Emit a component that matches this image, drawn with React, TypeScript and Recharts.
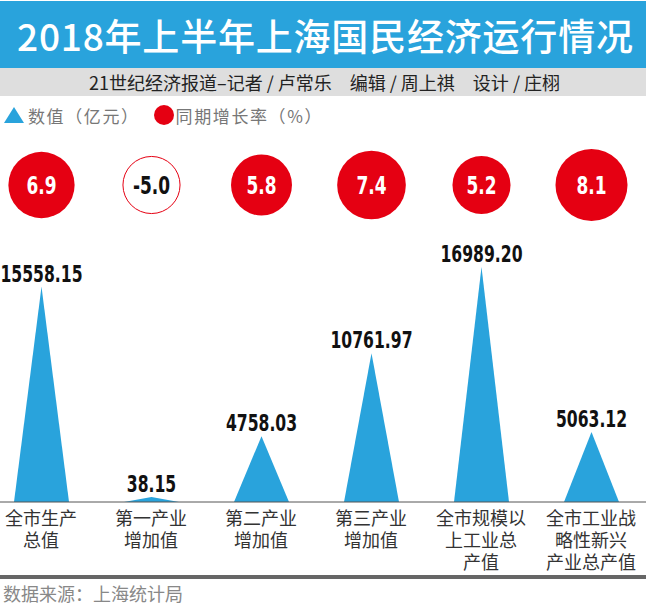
import { Bar, ComposedChart, LabelList, XAxis, YAxis } from "recharts";

const categories = [
  "全市生产\n总值",
  "第一产业\n增加值",
  "第二产业\n增加值",
  "第三产业\n增加值",
  "全市规模以\n上工业总\n产值",
  "全市工业战\n略性新兴\n产业总产值",
];
const values = [15558.15, 38.15, 4758.03, 10761.97, 16989.2, 5063.12];
const growth = [6.9, -5.0, 5.8, 7.4, 5.2, 8.1];

const BLUE = "#29a3dc";
const RED = "#e50012";
const CJK = '"Noto Sans CJK SC", "Noto Sans", sans-serif';
const NUM = '"DejaVu Sans", sans-serif';

const data = categories.map((name, i) => ({ name, value: values[i], growth: growth[i] }));

function Triangle(props: any) {
  const { x, y, width, height } = props;
  if (width == null || height == null) return null;
  const pts = `${x},${y + height} ${x + width / 2},${y} ${x + width},${y + height}`;
  return <polygon points={pts} fill={BLUE} />;
}

function CategoryTick({ x, y, payload }: any) {
  const lines = String(payload.value).split("\n");
  return (
    <text x={x} y={y} textAnchor="middle" fontSize={18} fill="#333" fontFamily={CJK}>
      {lines.map((l, i) => (
        <tspan key={i} x={x} dy={i === 0 ? 23 : 22}>
          {l}
        </tspan>
      ))}
    </text>
  );
}

// heavy numerals squeezed horizontally, close to the condensed face in the original
function NarrowText({ x, y, size, fill, children }: any) {
  return (
    <text
      transform={`translate(${x},${y}) scale(0.68,1)`}
      textAnchor="middle"
      fontSize={size}
      fontWeight="bold"
      fontFamily={NUM}
      fill={fill}
    >
      {children}
    </text>
  );
}

function ValueLabel(props: any) {
  const { x, y, width, value } = props;
  return (
    <NarrowText x={x + width / 2} y={y - 5} size={23} fill="#111">
      {Number(value).toFixed(2)}
    </NarrowText>
  );
}

function GrowthCircle(props: any) {
  const { x, width, value } = props;
  const cx = x + width / 2;
  const cy = 185;
  const r = 16.5 + 2.41 * Math.abs(value);
  const neg = value < 0;
  return (
    <g>
      <circle cx={cx} cy={cy} r={r} fill={neg ? "#fff" : RED} stroke={RED} strokeWidth={neg ? 1 : 0} />
      <NarrowText x={cx} y={cy + 9} size={25} fill={neg ? "#111" : "#fff"}>
        {value.toFixed(1)}
      </NarrowText>
    </g>
  );
}

export default function App() {
  return (
    <div
      style={{
        position: "absolute",
        left: 0,
        top: 0,
        width: 646,
        height: 608,
        overflow: "hidden",
        background: "#fff",
        fontFamily: CJK,
      }}
    >
      <div style={{ position: "absolute", left: -14, top: 0 }}>
        <ComposedChart width={660} height={608} data={data} margin={{ top: 253, right: 0, bottom: 0, left: 0 }}>
          <XAxis
            dataKey="name"
            height={106}
            axisLine={{ stroke: "#555", strokeWidth: 1 }}
            tickLine={false}
            tickSize={0}
            tickMargin={0}
            interval={0}
            tick={<CategoryTick />}
          />
          <YAxis hide domain={[0, 18000]} />
          <Bar dataKey="value" barSize={55} minPointSize={5} shape={<Triangle />} isAnimationActive={false}>
            <LabelList dataKey="value" content={<ValueLabel />} />
            <LabelList dataKey="growth" content={<GrowthCircle />} />
          </Bar>
        </ComposedChart>
      </div>

      <div
        style={{
          position: "absolute",
          left: 0,
          top: 1,
          width: 646,
          height: 67,
          background: BLUE,
          color: "#fff",
          fontSize: 37,
          letterSpacing: 0.8,
          fontWeight: 500,
          display: "flex",
          alignItems: "center",
          paddingLeft: 17,
          boxSizing: "border-box",
          whiteSpace: "nowrap",
        }}
      >
        2018年上半年上海国民经济运行情况
      </div>
      <div
        style={{
          position: "absolute",
          left: 0,
          top: 68,
          width: 646,
          height: 28,
          background: "#dedede",
          color: "#222",
          fontSize: 18,
          display: "flex",
          alignItems: "center",
          paddingLeft: 89,
          boxSizing: "border-box",
          whiteSpace: "pre",
        }}
      >
        {"21世纪经济报道–记者 / 卢常乐　编辑 / 周上祺　设计 / 庄栩"}
      </div>

      <div
        style={{
          position: "absolute",
          left: 0,
          top: 102,
          height: 26,
          display: "flex",
          alignItems: "center",
          fontSize: 17,
          color: "#777",
          whiteSpace: "nowrap",
        }}
      >
        <svg width={28} height={26} style={{ flex: "none" }}>
          <polygon points="4,21 14,5 24,21" fill={BLUE} />
        </svg>
        <span style={{ letterSpacing: 1.6 }}>数值（亿元）</span>
        <svg width={34} height={26} style={{ flex: "none", marginLeft: 0 }}>
          <circle cx={24} cy={13} r={10} fill={RED} />
        </svg>
        <span style={{ marginLeft: 2, letterSpacing: 1.6 }}>同期增长率（%）</span>
      </div>

      <div
        style={{
          position: "absolute",
          left: 0,
          top: 575,
          width: 646,
          height: 4,
          background: "#666",
        }}
      />
      <div
        style={{
          position: "absolute",
          left: 3,
          top: 580,
          fontSize: 18,
          color: "#888",
          whiteSpace: "nowrap",
          lineHeight: "26px",
        }}
      >
        数据来源：上海统计局
      </div>
    </div>
  );
}
